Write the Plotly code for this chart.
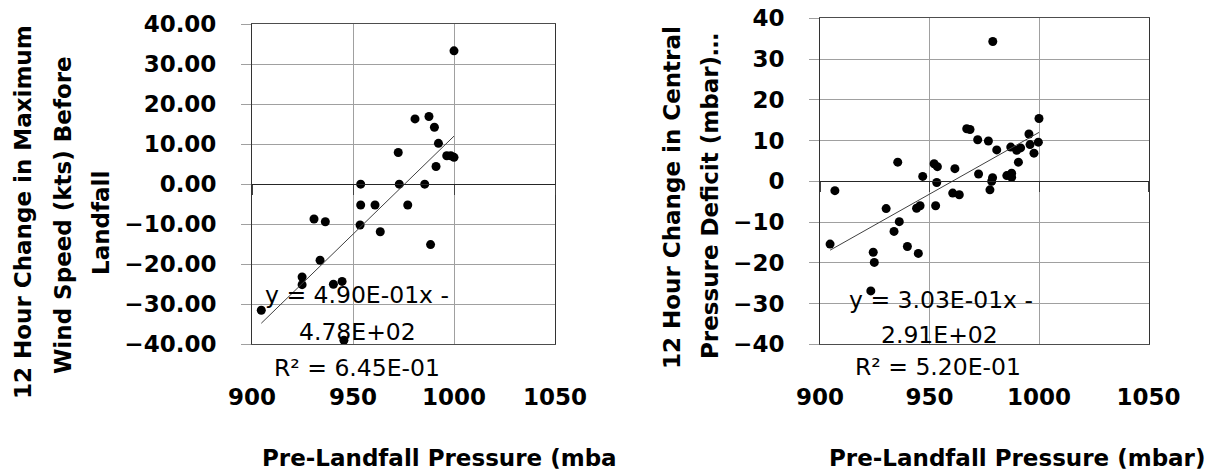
import plotly.graph_objects as go

# ---------------- data ----------------
left_pressure = [1000, 980.7, 987.6, 990.3, 992.3, 972.4, 996.4, 998.4, 1000, 991.1,
                 953.8, 972.9, 985.5, 953.8, 960.9, 977.1, 930.7, 936.3, 953.5, 963.5,
                 988.4, 933.7, 924.8, 924.8, 940.3, 944.6, 904.6, 945.5]
left_wind_change = [33.3, 16.3, 16.9, 14.2, 10.2, 7.9, 7.1, 7.1, 6.7, 4.4,
                    0.0, 0.0, 0.0, -5.2, -5.2, -5.2, -8.7, -9.4, -10.2, -11.9,
                    -15.1, -19.0, -23.2, -25.1, -25.0, -24.3, -31.5, -39.0]
left_slope, left_intercept = 0.490, -478.0
left_eq = ["y = 4.90E-01x -", "4.78E+02", "R² = 6.45E-01"]

right_pressure = [1000, 978.9, 967, 968.5, 972, 976.9, 980.7, 987.1, 989.8, 991.6,
                  995.4, 995.9, 999.7, 997.7, 990.6, 935.5, 952.1, 953.6, 961.6, 946.9,
                  972.4, 978.8, 978.4, 985.3, 987.5, 987.5, 953.3, 977.6, 960.6, 963.6,
                  906.8, 930.2, 944.1, 945.7, 952.8, 936.2, 933.8, 939.9, 944.9, 924.3,
                  924.8, 904.6, 923.2]
right_deficit_change = [15.4, 34.3, 12.9, 12.7, 10.2, 9.9, 7.7, 8.4, 7.6, 8.2,
                        11.6, 9.0, 9.6, 6.9, 4.7, 4.7, 4.3, 3.6, 3.1, 1.2,
                        1.8, 0.9, 0.0, 1.4, 2.0, 1.0, -0.3, -2.1, -2.9, -3.3,
                        -2.3, -6.7, -6.6, -6.0, -6.0, -9.9, -12.3, -16.0, -17.7, -17.4,
                        -19.9, -15.4, -26.9]
right_slope, right_intercept = 0.303, -291.0
right_eq = ["y = 3.03E-01x -", "2.91E+02", "R² = 5.20E-01"]

x_range = [900, 1050]
x_ticks = [900, 950, 1000, 1050]
y_range = [-40, 40]
y_ticks = [-40, -30, -20, -10, 0, 10, 20, 30, 40]
left_y_title = ["12 Hour Change in Maximum", "Wind Speed (kts) Before", "Landfall"]
right_y_title = ["12 Hour Change in Central", "Pressure Deficit (mbar)…"]
left_x_title = "Pre-Landfall Pressure (mba"
right_x_title = "Pre-Landfall Pressure (mbar)"

# ---------------- layout helpers ----------------
W, H = 1215, 474
def px(p):
    return p / W
def py(p):
    return 1 - p / H

FONT = "DejaVu Sans"
GRID = "#a0a0a0"
AX = "#4d4d4d"

left_xdom = [px(252), px(555)]
left_ydom = [py(344.3), py(24)]
right_xdom = [px(820), px(1148.5)]
right_ydom = [py(344.3), py(18.3)]

def zero_pos(dom):
    return dom[0] + (0 - y_range[0]) / (y_range[1] - y_range[0]) * (dom[1] - dom[0])

def fit_line(xs, slope, intercept):
    x0, x1 = min(xs), max(xs)
    return [x0, x1], [slope * x0 + intercept, slope * x1 + intercept]

fig = go.Figure()

marker = dict(color="black", size=9)
fig.add_trace(go.Scatter(x=left_pressure, y=left_wind_change, mode="markers",
                         marker=marker, xaxis="x", yaxis="y", showlegend=False))
lx, ly = fit_line(left_pressure, left_slope, left_intercept)
fig.add_trace(go.Scatter(x=lx, y=ly, mode="lines", line=dict(color="#404040", width=1),
                         xaxis="x3", yaxis="y", showlegend=False))

fig.add_trace(go.Scatter(x=right_pressure, y=right_deficit_change, mode="markers",
                         marker=marker, xaxis="x2", yaxis="y2", showlegend=False))
rx, ry = fit_line(right_pressure, right_slope, right_intercept)
fig.add_trace(go.Scatter(x=rx, y=ry, mode="lines", line=dict(color="#404040", width=1),
                         xaxis="x4", yaxis="y2", showlegend=False))

tickfont = dict(family=FONT, size=23, color="black", weight="bold")

def xaxis(dom, anchor):
    return dict(domain=dom, anchor=anchor, range=x_range, tickvals=x_ticks,
                showgrid=True, gridcolor=GRID, gridwidth=1, zeroline=False,
                showline=True, mirror=True, linecolor=AX, linewidth=1,
                ticks="outside", ticklen=32, tickcolor="rgba(0,0,0,0)",
                tickfont=tickfont, fixedrange=True, automargin=False)

def yaxis(dom, anchor, fmt):
    return dict(domain=dom, anchor=anchor, range=y_range, tickvals=y_ticks, tickformat=fmt,
                showgrid=True, gridcolor=GRID, gridwidth=1, zeroline=False,
                showline=True, mirror=True, linecolor="#333333", linewidth=1,
                ticks="outside", ticklen=10, tickcolor=GRID,
                ticklabelstandoff=20, tickfont=tickfont, fixedrange=True, automargin=False)

def zeroaxis(over, dom):
    return dict(overlaying=over, anchor="free", position=zero_pos(dom), range=x_range,
                tickvals=x_ticks, showgrid=False, zeroline=False, showline=True,
                linecolor="#262626", linewidth=1.3, ticks="outside", ticklen=10,
                tickcolor="#404040", showticklabels=False, fixedrange=True, automargin=False)

annotations = []
def ann(text, x, y, size=23, bold=True, angle=0):
    annotations.append(dict(text=text, x=px(x), y=py(y), xref="paper", yref="paper",
                            showarrow=False, xanchor="center", yanchor="middle",
                            textangle=angle,
                            font=dict(family=FONT, size=size, color="black",
                                      weight="bold" if bold else "normal")))

# y titles
for t, (x, y) in zip(left_y_title, [(23, 212), (63, 215), (101, 223)]):
    ann(t, x, y, angle=-90)
for t, (x, y) in zip(right_y_title, [(672, 197), (710, 196)]):
    ann(t, x, y, angle=-90)
# x titles
ann(left_x_title, 439, 458)
ann(right_x_title, 1017, 458)
# equations
for t, (x, y) in zip(left_eq, [(357, 295), (357, 332), (357, 368)]):
    ann(t, x, y, size=23.5, bold=False)
for t, (x, y) in zip(right_eq, [(941, 300), (939, 335), (938, 367)]):
    ann(t, x, y, size=23.5, bold=False)

fig.update_layout(
    template="none",
    width=W, height=H, margin=dict(l=0, r=0, t=0, b=0, pad=0, autoexpand=False),
    paper_bgcolor="white", plot_bgcolor="white",
    xaxis=xaxis(left_xdom, "y"), yaxis=yaxis(left_ydom, "x", ".2f"),
    xaxis2=xaxis(right_xdom, "y2"), yaxis2=yaxis(right_ydom, "x2", "d"),
    xaxis3=zeroaxis("x", left_ydom), xaxis4=zeroaxis("x2", right_ydom),
    annotations=annotations, showlegend=False,
)

fig.write_html("out.html")
